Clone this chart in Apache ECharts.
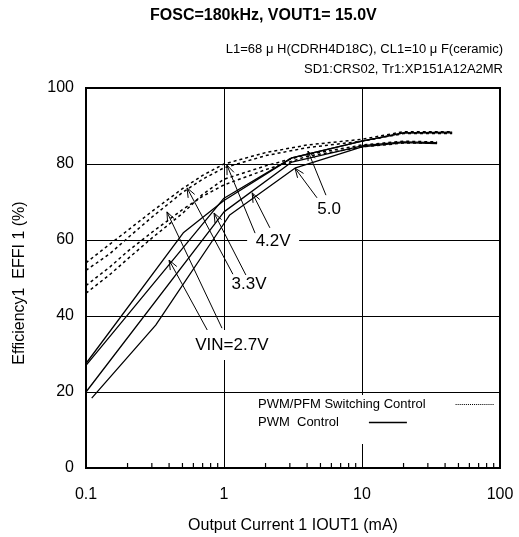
<!DOCTYPE html>
<html>
<head>
<meta charset="utf-8">
<script src="https://cdn.jsdelivr.net/npm/echarts@6/dist/echarts.min.js"></script>
<style>html,body{margin:0;padding:0;background:#fff}#c{width:519px;height:537px}</style>
</head>
<body>
<div id="c"></div>
<script>
// ---- data (output current mA, efficiency %) ----
const pwmA = [[0.1,27.5],[0.51,62],[1,70.4],[3.1,81.6],[10,86],[20,88.2],[45,88.4]];
const pwmB = [[0.1,27],[1,71],[3.1,81.6],[10,86],[20,88.2],[45,88.2]];
const pwmC = [[0.1,20],[1,67.4],[3.1,80.5],[10,84.8],[20,85.8],[35,85.6]];
const pwmD = [[0.11,18.4],[0.32,37.6],[1.02,64.8],[1.1,66.6],[3.3,79],[10,84.5],[20,85.6],[35,85.4]];

const pfmA = [[0.1,54],[0.15,59],[0.2,62.5],[0.3,67.5],[0.5,73.5],[0.7,77],[1,80],[2,83],[4,85],[10,86.5],[20,88.5],[45,88.5]];
const pfmB = [[0.1,52],[0.15,56.5],[0.2,60.5],[0.3,66],[0.5,72.5],[0.7,76],[1,79],[2,82.2],[4,84.3],[10,86],[20,88],[45,88]];
const pfmC = [[0.1,48],[0.15,53],[0.2,57],[0.3,62],[0.5,68],[0.7,71.5],[1,74.5],[2,78.5],[4,82],[10,84.5],[20,85.5],[35,85.5]];
const pfmD = [[0.1,46],[0.15,51],[0.2,55],[0.3,60.5],[0.5,67],[0.7,72],[1,76],[2,79.5],[4,82.5],[10,85],[20,86],[35,85.8]];

const xTicks = [0.1, 1, 10, 100];
const minorTicks = [0.2,0.3,0.4,0.5,0.6,0.7,0.8,0.9,2,3,4,5,6,7,8,9,20,30,40,50,60,70,80,90];
const yTicks = [0, 20, 40, 60, 80, 100];

const legendNames = ['PWM/PFM Switching Control', 'PWM  Control'];

// annotations (data space)
const annoText = ['5.0', '4.2V', '3.3V', 'VIN=2.7V'];
const annoAt = [[5.77,68.2],[2.27,59.7],[1.52,48.4],[1.14,32.4]];
const arrowFrom = [[5.48,71.8],[4.72,71.1],[1.68,61.8],[2.15,63.2],[1.16,51],[1.44,50.8],[0.805,34.5],[0.967,36.8]];
const arrowTo   = [[4.06,83.4],[3.27,78.9],[1.05,79.7],[1.6,72.4],[0.54,73.7],[0.847,67.1],[0.40,54.7],[0.386,67.4]];

// ---- chart ----
const FONT = 'Liberation Sans, Arial, sans-serif';
const boxSizes = [[28,16],[52,15],[38,16],[64,30]];

let dotPath = 'path://';
for (let k = 0; k < 19; k++) dotPath += 'M' + (k*2) + ',0h1v1h-1z ';
const solidPath = 'path://M0,0h38v1.5h-38z';

const solid = {color:'#000', width:1.3, type:'solid'};
const dotted = {color:'#000', width:1.5, type:[3,3]};

function lineSeries(name, data, style) {
  return {type:'line', name, data, symbol:'none', showSymbol:false, smooth:false,
          lineStyle: style, itemStyle:{color:'#000'}, z:2, silent:true};
}

function renderArrow(params, api) {
  const p0 = api.coord([api.value(0), api.value(1)]);
  const p1 = api.coord([api.value(2), api.value(3)]);
  const dx = p0[0]-p1[0], dy = p0[1]-p1[1];
  const L = Math.sqrt(dx*dx+dy*dy) || 1;
  const ux = dx/L, uy = dy/L, hl = 10, a = 0.38;
  const c = Math.cos(a), s = Math.sin(a);
  const h1 = [p1[0] + hl*(ux*c - uy*s), p1[1] + hl*(ux*s + uy*c)];
  const h2 = [p1[0] + hl*(ux*c + uy*s), p1[1] + hl*(-ux*s + uy*c)];
  const st = {stroke:'#000', lineWidth:1, fill:null};
  return {type:'group', children:[
    {type:'line', shape:{x1:p0[0], y1:p0[1], x2:p1[0], y2:p1[1]}, style:st},
    {type:'polyline', shape:{points:[h1, p1, h2]}, style:st}
  ]};
}

function renderMinorTick(params, api) {
  const p = api.coord([api.value(0), api.value(1)]);
  return {type:'line', shape:{x1:p[0], y1:p[1]-1, x2:p[0], y2:p[1]-5},
          style:{stroke:'#000', lineWidth:1.2, fill:null}};
}

const series = [
  lineSeries(legendNames[0], pfmA, dotted),
  lineSeries(legendNames[0], pfmB, dotted),
  lineSeries(legendNames[0], pfmC, dotted),
  lineSeries(legendNames[0], pfmD, dotted),
  lineSeries(legendNames[1], pwmA, solid),
  lineSeries(legendNames[1], pwmB, solid),
  lineSeries(legendNames[1], pwmC, solid),
  lineSeries(legendNames[1], pwmD, solid),
  {type:'line', name:'annoLabels', data:[], z:3, silent:true,
   markPoint:{symbol:'rect', itemStyle:{color:'#fff'}, silent:true, animation:false,
     label:{show:true, position:'inside', color:'#000', fontSize:17, fontFamily:FONT, formatter:'{b}'},
     data: annoText.map((t,i)=>({name:t, coord:annoAt[i], symbolSize:boxSizes[i]}))}},
  {type:'custom', name:'annoArrows', z:4, silent:true, clip:false,
   encode:{x:[0,2], y:[1,3]},
   data: arrowFrom.map((f,i)=>[f[0], f[1], arrowTo[i][0], arrowTo[i][1]]),
   renderItem: renderArrow},
  {type:'custom', name:'minorTicks', z:5, silent:true, clip:false,
   encode:{x:0, y:1},
   data: minorTicks.map(v=>[v, yTicks[0]]),
   renderItem: renderMinorTick}
];

const legendCommon = {orient:'horizontal', align:'right', itemWidth:38, itemHeight:2,
  selectedMode:false, textStyle:{fontFamily:FONT, fontSize:13, color:'#000', padding:[0,25,0,0]}};

const chart = echarts.init(document.getElementById('c'), null, {renderer:'canvas'});
chart.setOption({
  animation:false,
  backgroundColor:'#fff',
  title:[
    {text:'FOSC=180kHz, VOUT1= 15.0V', left:150, top:8, padding:0,
     textStyle:{fontFamily:FONT, fontSize:16, fontWeight:'bold', color:'#000'}},
    {text:'L1=68 μ H(CDRH4D18C), CL1=10 μ F(ceramic)', right:16, top:43, padding:0,
     textStyle:{fontFamily:FONT, fontSize:13, fontWeight:'normal', color:'#000'}},
    {text:'SD1:CRS02, Tr1:XP151A12A2MR', right:16, top:63, padding:0,
     textStyle:{fontFamily:FONT, fontSize:13, fontWeight:'normal', color:'#000'}}
  ],
  grid:{left:86, right:19, top:88, bottom:69, show:true, borderColor:'#000', borderWidth:2,
    backgroundColor:'transparent', containLabel:false, outerBoundsMode:'none'},
  legend:[
    Object.assign({}, legendCommon, {data:[{name:legendNames[0], icon:dotPath}], left:254, top:395,
      backgroundColor:'#fff', padding:[3,2,33,4]}),
    Object.assign({}, legendCommon, {data:[{name:legendNames[1], icon:solidPath}], left:258, top:416,
      padding:0})
  ],
  xAxis:{type:'log', logBase:10, min:0.1, max:100,
     name:'Output Current 1 IOUT1 (mA)', nameLocation:'middle', nameGap:50,
     nameTextStyle:{fontFamily:FONT, fontSize:16, color:'#000'},
     axisLine:{show:true, onZero:false, lineStyle:{color:'#000', width:2}},
     axisTick:{show:false},
     axisLabel:{fontFamily:FONT, fontSize:16, color:'#000', margin:19,
       formatter:v=>String(+(+v).toPrecision(3))},
     splitLine:{show:true, lineStyle:{color:'#000', width:1}}},
  yAxis:{type:'value', min:0, max:100, interval:20,
    name:'Efficiency1  EFFI 1 (%)', nameLocation:'middle', nameGap:58,
    nameTextStyle:{fontFamily:FONT, fontSize:16, color:'#000', padding:[0,10,0,0]},
    axisLine:{show:true, onZero:false, lineStyle:{color:'#000', width:2}},
    axisTick:{show:false},
    axisLabel:{fontFamily:FONT, fontSize:16, color:'#000', margin:12},
    splitLine:{show:true, lineStyle:{color:'#000', width:1}}},
  series
});
</script>
</body>
</html>
